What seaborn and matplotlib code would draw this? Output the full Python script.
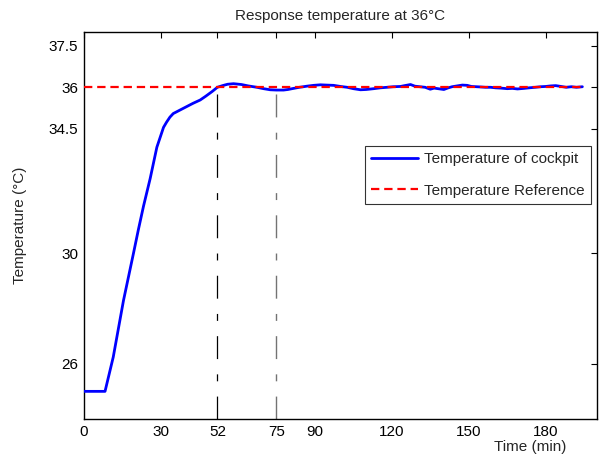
import matplotlib
matplotlib.use("Agg")
import matplotlib.pyplot as plt
import seaborn as sns
import pandas as pd

# ---- data ----
time_min = [0, 8.2, 11.4, 15.4, 19.3, 21.2, 23.2, 25.8, 28.4, 31.0, 32.2, 33.5, 34.8,
            37.5, 40, 42.5, 45.3, 47.5, 50, 52, 54, 56, 58.3, 61.4, 64, 67.4, 70,
            72.6, 75, 77.8, 79.5, 81.7, 84, 86.9, 89.5, 92.2, 94.5, 97.3, 100, 102.6,
            105, 107.8, 110, 113, 115.5, 118.2, 120.5, 123.4, 125, 127.3, 129, 131,
            133, 135, 136.5, 138, 140.3, 142, 143.5, 145.5, 147.5, 149.4, 151, 153,
            155, 156.5, 158.5, 160.5, 162.5, 165, 167, 169, 171.5, 173.5, 176, 178,
            180, 182, 183.9, 186, 188, 190, 192, 194.3]
temp_cockpit = [25.0, 25.0, 26.24, 28.29, 30.0, 30.85, 31.7, 32.7, 33.83, 34.55,
                34.74, 34.92, 35.05, 35.18, 35.30, 35.42, 35.54, 35.68, 35.85, 36.0,
                36.06, 36.11, 36.13, 36.10, 36.05, 36.0, 35.95, 35.91, 35.90, 35.90,
                35.92, 35.96, 36.0, 36.04, 36.07, 36.09, 36.08, 36.07, 36.03, 36.0,
                35.95, 35.91, 35.92, 35.95, 35.98, 36.0, 36.02, 36.03, 36.06, 36.1,
                36.04, 36.02, 36.0, 35.93, 35.97, 35.95, 35.92, 35.98, 36.02, 36.05,
                36.08, 36.07, 36.03, 36.02, 36.01, 36.0, 36.0, 35.98, 35.97, 35.95,
                35.96, 35.94, 35.96, 35.98, 36.0, 36.02, 36.03, 36.05, 36.06, 36.03,
                36.0, 36.02, 36.0, 36.02]
ref_time = [0, 194.3]
ref_temp = [36, 36]
marker_times = [52, 75]
marker_tops = [36.0, 35.9]

x_ticks = [0, 30, 52, 75, 90, 120, 150, 180]
y_ticks = [26, 30, 34.5, 36, 37.5]
y_tick_labels = ["26", "30", "34.5", "36", "37.5"]

# ---- figure ----
sns.set_style("white")
plt.rcParams["font.family"] = ["Liberation Sans", "DejaVu Sans"]
plt.rcParams["lines.scale_dashes"] = False

W, H = 601, 461
fig = plt.figure(figsize=(W / 100, H / 100), dpi=100)
ax = fig.add_axes([84 / W, 1 - 419 / H, (597 - 84) / W, (419 - 32) / H])

df = pd.DataFrame({"t": time_min, "T": temp_cockpit})
dref = pd.DataFrame({"t": ref_time, "T": ref_temp})

sns.lineplot(data=df, x="t", y="T", ax=ax, color="#0000ff", linewidth=2.0,
             label="Temperature of cockpit", zorder=3)
sns.lineplot(data=dref, x="t", y="T", ax=ax, color="#ff0000", linewidth=1.6,
             linestyle=(0, (6, 3.5)), label="Temperature Reference", zorder=4)

ax.vlines(marker_times[0], 24, marker_tops[0], colors="black", linewidth=0.9,
          linestyles=[(0, (16.5, 11, 5, 11))], zorder=2)
ax.vlines(marker_times[1], 24, marker_tops[1], colors="0.45", linewidth=1.0,
          linestyles=[(0, (16.5, 11, 5, 11))], zorder=2)

ax.set_xlim(0, 200)
ax.set_ylim(24, 38)
ax.set_xticks(x_ticks)
ax.set_xticklabels([str(v) for v in x_ticks])
ax.set_yticks(y_ticks)
ax.set_yticklabels(y_tick_labels)

ax.tick_params(direction="in", length=4, width=0.8, top=True, right=True,
               labelsize=11, colors="black", pad=4)
for s in ax.spines.values():
    s.set_visible(True)
    s.set_color("black")
    s.set_linewidth(1.0)

ax.set_title("Response temperature at 36\u00b0C", fontsize=11, pad=9)
ax.set_xlabel("Time (min)", fontsize=11)
ax.xaxis.set_label_coords((530 - 84) / 513, -0.055)
ax.set_ylabel("Temperature (\u00b0C)", fontsize=11)
ax.yaxis.set_label_coords(-0.112, 0.5)

leg = ax.legend(loc="upper right", bbox_to_anchor=((591 - 84) / 513, (419 - 146) / 387),
                borderaxespad=0, fontsize=11, frameon=True, fancybox=False,
                handlelength=3.1, handletextpad=0.4, labelspacing=1.15,
                borderpad=0.4)
leg.get_frame().set_edgecolor("black")
leg.get_frame().set_linewidth(0.8)

fig.savefig("out.png", dpi=100)
